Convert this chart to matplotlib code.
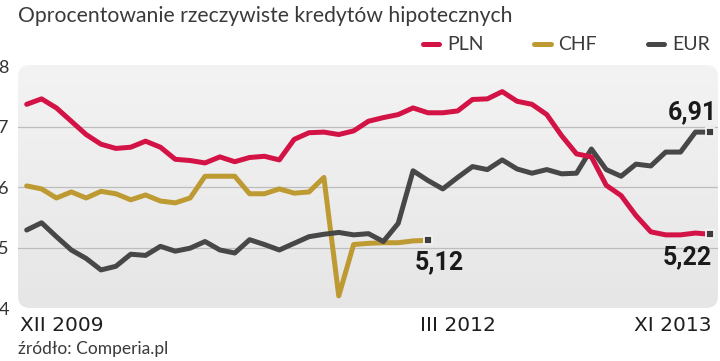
import matplotlib
matplotlib.use("Agg")
import matplotlib.pyplot as plt
import matplotlib.transforms as mtransforms
from matplotlib.patches import FancyBboxPatch
import numpy as np

# monthly data, XII 2009 .. XI 2013
pln = [7.37, 7.46, 7.31, 7.09, 6.87, 6.71, 6.64, 6.66, 6.76, 6.66,
       6.46, 6.44, 6.40, 6.50, 6.42, 6.49, 6.51, 6.45, 6.79, 6.90,
       6.91, 6.87, 6.93, 7.09, 7.15, 7.20, 7.31, 7.23, 7.23, 7.26,
       7.45, 7.46, 7.58, 7.42, 7.37, 7.20, 6.85, 6.55, 6.50, 6.03,
       5.86, 5.53, 5.26, 5.21, 5.21, 5.24, 5.22]
chf = [6.02, 5.97, 5.82, 5.92, 5.82, 5.93, 5.89, 5.79, 5.87, 5.77,
       5.74, 5.82, 6.18, 6.18, 6.18, 5.89, 5.89, 5.97, 5.90, 5.92,
       6.16, 4.20, 5.05, 5.07, 5.08, 5.08, 5.11, 5.12]
eur = [5.29, 5.41, 5.18, 4.96, 4.82, 4.63, 4.69, 4.89, 4.87, 5.02,
       4.94, 4.99, 5.10, 4.96, 4.91, 5.13, 5.05, 4.96, 5.07, 5.18,
       5.22, 5.25, 5.21, 5.23, 5.10, 5.40, 6.27, 6.11, 5.97, 6.16,
       6.34, 6.29, 6.45, 6.30, 6.23, 6.29, 6.22, 6.23, 6.63, 6.29,
       6.18, 6.38, 6.35, 6.58, 6.58, 6.91, 6.91]

series_names = ["PLN", "CHF", "EUR"]
colors = {"PLN": "#D31245", "CHF": "#BE9A33", "EUR": "#474747"}
x_labels = ["XII 2009", "III 2012", "XI 2013"]
x_label_idx = [0, 27, 46]
y_ticks = [4, 5, 6, 7, 8]
end_labels = {"CHF": "5,12", "EUR": "6,91", "PLN": "5,22"}

data = {"PLN": pln, "CHF": chf, "EUR": eur}

LIGHT = ["Lato", "DejaVu Sans"]
BOLD = ["Roboto", "DejaVu Sans"]

fig = plt.figure(figsize=(7.2, 3.61), dpi=100)
ax = fig.add_axes([0.025, 0.1468, 0.9722, 0.6731])
for s in ax.spines.values():
    s.set_visible(False)

# rounded grey panel with a soft vertical gradient
panel = FancyBboxPatch((0, 0), 1, 1, boxstyle="round,pad=0,rounding_size=0.017",
                       mutation_aspect=2.88, transform=ax.transAxes,
                       facecolor="none", edgecolor="none")
ax.add_patch(panel)
grad = np.linspace(0, 1, 256).reshape(-1, 1)
img = ax.imshow(grad, extent=(0, 1, 0, 1), transform=ax.transAxes, aspect="auto",
                cmap=matplotlib.colors.LinearSegmentedColormap.from_list(
                    "bg", ["#E6E6E6", "#F3F3F3"]), origin="lower", zorder=0)
img.set_clip_path(panel)
ax.set_xlim(-0.585, 46.52)
ax.set_ylim(4.04, 8.02)

for v in [5, 6, 7]:
    ax.axhline(v, color="#BDBDBD", lw=0.9, zorder=1)

for name in ["CHF", "EUR", "PLN"]:
    vals = data[name]
    ax.plot(range(len(vals)), vals, color=colors[name], lw=3.6,
            solid_joinstyle="round", solid_capstyle="round", zorder=3, label=name)

# end markers and value labels
offsets = {"CHF": (-13, -22, "left"), "EUR": (7, 20, "right"), "PLN": (2, -23, "right")}
for name in ["CHF", "EUR", "PLN"]:
    vals = data[name]
    xi = len(vals) - 1
    ax.plot(xi, vals[-1], marker="s", ms=5.5, mfc="#3d3d3d", mec="#f4f4f4",
            mew=1.3, zorder=5)
    dx, dy, ha = offsets[name]
    ax.annotate(end_labels[name], (xi, vals[-1]), xytext=(dx * 0.72, dy * 0.72),
                textcoords="offset points", ha=ha, va="center", fontsize=18,
                fontweight="bold", family=BOLD, color="#1a1a1a", zorder=6)

ax.set_yticks(y_ticks)
ax.set_yticklabels([str(t) for t in y_ticks], family=LIGHT)
ax.tick_params(axis="y", length=0, pad=6.5, labelsize=13, labelcolor="#333333")
ax.set_xticks([])

# x labels below the panel
trans = mtransforms.blended_transform_factory(ax.transData, ax.transAxes)
xl_off = [(-6.3, "left"), (-7.6, "left"), (1.4, "right")]
for lbl, idx, (dx, ha) in zip(x_labels, x_label_idx, xl_off):
    ax.annotate(lbl, (idx, 0), xycoords=trans, xytext=(dx * 0.72, -23 * 0.72),
                textcoords="offset points", ha=ha, va="baseline", fontsize=14.5,
                color="#1e1e1e")

fig.text(0.025, 1 - 21.5 / 361, "Oprocentowanie rzeczywiste kredytów hipotecznych",
         fontsize=15.2, color="#3a3a3a", va="baseline", ha="left", family=LIGHT)
fig.text(0.025, 1 - 354 / 361, "źródło: Comperia.pl", fontsize=12.5,
         color="#3a3a3a", va="baseline", ha="left", family=LIGHT)

handles, labels = ax.get_legend_handles_labels()
order = [labels.index(n) for n in series_names]
fig.legend([handles[i] for i in order], series_names, loc="center right",
           bbox_to_anchor=(0.999, 1 - 45 / 361), ncol=3, frameon=False,
           prop={"family": LIGHT, "size": 14},
           handlelength=0.85, handletextpad=0.4,
           columnspacing=2.6, borderpad=0, labelcolor="#3a3a3a")

fig.savefig("out.png", dpi=100)
